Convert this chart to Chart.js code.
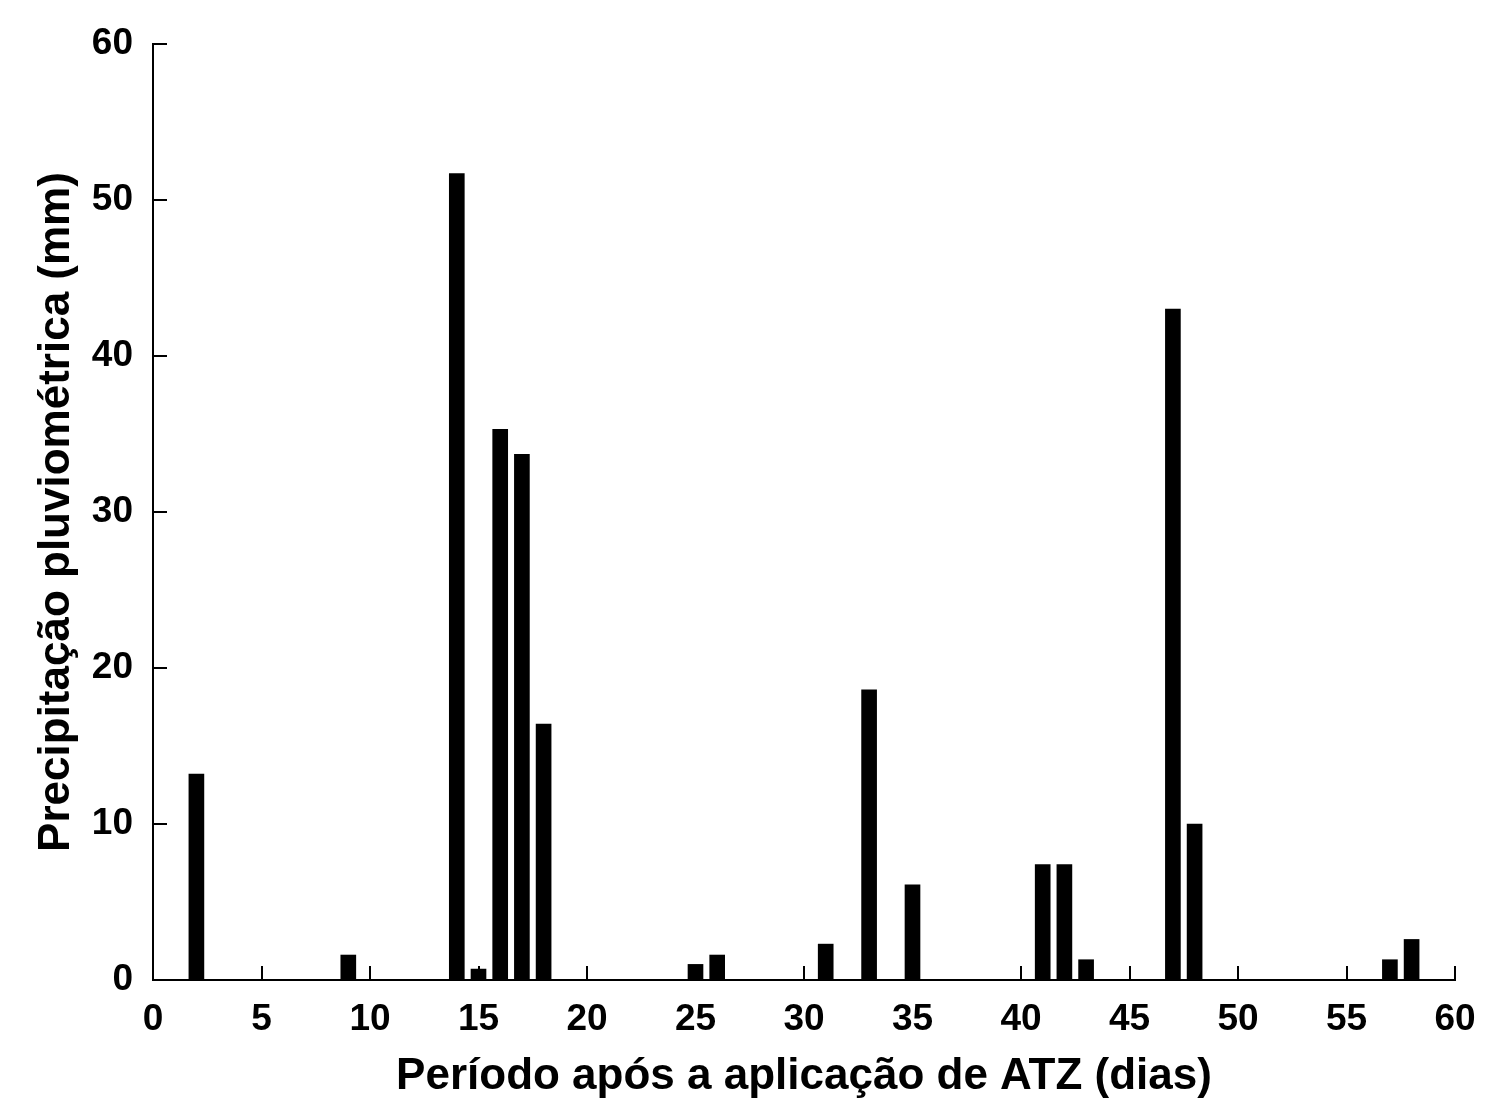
<!DOCTYPE html>
<html>
<head>
<meta charset="utf-8">
<script src="https://cdn.jsdelivr.net/npm/chart.js@4/dist/chart.umd.min.js"></script>
<style>
  html, body { margin: 0; padding: 0; background: #fff; }
  #wrap { width: 1503px; height: 1103px; }
</style>
</head>
<body>
<div id="wrap"><canvas id="rainChart" width="1503" height="1103"></canvas></div>
<script>
// Data
const days = [2, 9, 14, 15, 16, 17, 18, 25, 26, 31, 33, 35, 41, 42, 43, 47, 48, 57, 58];
const rain = [13.2, 1.6, 51.7, 0.7, 35.3, 33.7, 16.4, 1.0, 1.6, 2.3, 18.6, 6.1, 7.4, 7.4, 1.3, 43.0, 10.0, 1.3, 2.6];

const xTitle = "Período após a aplicação de ATZ (dias)";
const yTitle = "Precipitação pluviométrica (mm)";

const fontFamily = "'Liberation Sans', Arial, sans-serif";

// inward tick marks drawn from the scales
const innerTicks = {
  id: "innerTicks",
  afterDraw(chart) {
    const ctx = chart.ctx;
    const xs = chart.scales.x;
    const ys = chart.scales.y;
    const area = chart.chartArea;
    ctx.save();
    ctx.strokeStyle = "#000";
    ctx.lineWidth = 2;
    ctx.beginPath();
    xs.ticks.forEach(t => {
      const px = Math.round(xs.getPixelForValue(t.value));
      ctx.moveTo(px, area.bottom);
      ctx.lineTo(px, area.bottom - 14);
    });
    ys.ticks.forEach(t => {
      const py = Math.round(ys.getPixelForValue(t.value));
      ctx.moveTo(area.left, py);
      ctx.lineTo(area.left + 14, py);
    });
    ctx.stroke();
    ctx.restore();
  }
};

const points = days.map((d, i) => ({ x: d, y: rain[i] }));

new Chart(document.getElementById("rainChart"), {
  type: "bar",
  data: {
    datasets: [{
      data: points,
      backgroundColor: "#000",
      borderWidth: 0,
      barThickness: 15,
    }],
  },
  options: {
    responsive: false,
    animation: false,
    layout: { padding: { top: 44, right: 48, left: 0, bottom: 0 } },
    plugins: { legend: { display: false }, tooltip: { enabled: false } },
    scales: {
      x: {
        type: "linear",
        min: 0,
        max: 60,
        offset: false,
        ticks: { stepSize: 5, color: "#000", padding: 18, maxRotation: 0,
                 font: { family: fontFamily, size: 37, weight: "bold" } },
        grid: { drawOnChartArea: false, drawTicks: false },
        border: { color: "#000", width: 2 },
        title: { display: true, text: xTitle, color: "#000", padding: { top: 4, bottom: 0 },
                 font: { family: fontFamily, size: 44, weight: "bold" } },
        afterFit(scale) { scale.height = 123; },
      },
      y: {
        min: 0,
        max: 60,
        ticks: { stepSize: 10, color: "#000", padding: 20,
                 font: { family: fontFamily, size: 37, weight: "bold" } },
        grid: { drawOnChartArea: false, drawTicks: false },
        border: { color: "#000", width: 2 },
        title: { display: true, text: yTitle, color: "#000", padding: { top: 30, bottom: 4 },
                 font: { family: fontFamily, size: 44, weight: "bold" } },
        afterFit(scale) { scale.width = 153; },
      },
    },
  },
  plugins: [innerTicks],
});
</script>
</body>
</html>
